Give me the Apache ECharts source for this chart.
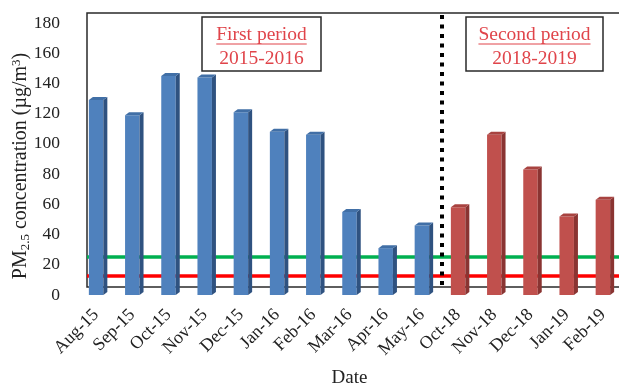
<!DOCTYPE html>
<html>
<head>
<meta charset="utf-8">
<script src="https://cdn.jsdelivr.net/npm/echarts@6/dist/echarts.min.js"></script>
<style>
  html, body { margin: 0; padding: 0; background: #fff; }
  #chart { width: 619px; height: 386px; }
</style>
</head>
<body>
<div id="chart"></div>
<script>
// Monthly mean PM2.5, two sampling campaigns
const months = ['Aug-15', 'Sep-15', 'Oct-15', 'Nov-15', 'Dec-15', 'Jan-16', 'Feb-16',
                'Mar-16', 'Apr-16', 'May-16', 'Oct-18', 'Nov-18', 'Dec-18', 'Jan-19', 'Feb-19'];
const firstPeriod = [129, 119, 145, 144, 121, 108, 106, 55, 31, 46];
const secondPeriod = [58, 106, 83, 52, 63];
const guidelineHigh = 25;  // green reference line
const guidelineLow = 13;   // red reference line
const yTicks = [0, 20, 40, 60, 80, 100, 120, 140, 160, 180];

const FONT = 'Liberation Serif';
const TEXT = '#222';

// [categoryIndex, value] pairs for each campaign
const firstData = firstPeriod.map((v, i) => [i, v]);
const secondData = secondPeriod.map((v, i) => [firstPeriod.length + i, v]);

// Pseudo-3D column: front face, top face, shaded side face
function columnRenderer(front, top, side) {
  return function (params, api) {
    const idx = api.value(0);
    const val = api.value(1);
    const p = api.coord([idx, val]);
    const b = api.coord([idx, 0]);
    const bw = api.size([1, 0])[0] * 0.40;
    const dx = 4, dy = 3;
    const l = p[0] - bw / 2, r = l + bw;
    return {
      type: 'group',
      children: [
        { type: 'rect', shape: { x: l, y: p[1], width: bw, height: b[1] - p[1] },
          style: { fill: front } },
        { type: 'polygon', shape: { points: [[r, p[1]], [r + dx, p[1] - dy], [r + dx, b[1] - dy], [r, b[1]]] },
          style: { fill: side } },
        { type: 'polygon', shape: { points: [[l, p[1]], [l + dx, p[1] - dy], [r + dx, p[1] - dy], [r, p[1]]] },
          style: { fill: top } }
      ]
    };
  };
}

const chart = echarts.init(document.getElementById('chart'), null, { renderer: 'canvas' });

const option = {
  backgroundColor: '#fff',
  animation: false,
  grid: [
    // plotting area for the columns
    { left: 78, width: 543, top: 23, bottom: 91, outerBoundsMode: 'none' },
    // back-wall frame
    { left: 87, right: -10, top: 13, bottom: 99, show: true, borderColor: '#2a2a2a', borderWidth: 1.5,
      backgroundColor: 'transparent', outerBoundsMode: 'none' },
    // reference lines
    { left: 87, right: -2, top: 23, bottom: 91, outerBoundsMode: 'none' }
  ],
  xAxis: [
    {
      gridIndex: 0, type: 'category', data: months,
      axisLine: { show: false }, axisTick: { show: false },
      axisLabel: { rotate: 45, margin: 17, fontFamily: FONT, fontSize: 18, color: TEXT, interval: 0 },
      name: 'Date', nameLocation: 'middle', nameGap: 74, nameMoveOverlap: false,
      nameTextStyle: { fontFamily: FONT, fontSize: 19, color: TEXT }
    },
    { gridIndex: 1, type: 'value', show: false },
    { gridIndex: 2, type: 'value', min: 0, max: 1, show: false }
  ],
  yAxis: [
    {
      gridIndex: 0, type: 'value', min: yTicks[0], max: yTicks[yTicks.length - 1],
      interval: yTicks[1] - yTicks[0],
      splitLine: { show: false }, axisLine: { show: false }, axisTick: { show: false },
      axisLabel: { margin: 18, fontFamily: FONT, fontSize: 17.5, color: TEXT },
      name: 'PM{sub|2.5} concentration (µg/m{sup|3})',
      nameLocation: 'middle', nameGap: 46, nameMoveOverlap: false,
      nameTextStyle: {
        fontFamily: FONT, fontSize: 20, color: TEXT, padding: [0, 14, 0, 0],
        rich: {
          sub: { fontFamily: FONT, fontSize: 13, color: TEXT, padding: [9, 0, 0, 0] },
          sup: { fontFamily: FONT, fontSize: 13, color: TEXT, padding: [0, 0, 9, 0] }
        }
      }
    },
    { gridIndex: 1, type: 'value', show: false },
    { gridIndex: 2, type: 'value', min: yTicks[0], max: yTicks[yTicks.length - 1], show: false }
  ],
  series: [
    {
      name: 'First period', type: 'custom', xAxisIndex: 0, yAxisIndex: 0,
      renderItem: columnRenderer('#4f81bd', '#416fa6', '#2f5280'),
      encode: { x: 0, y: 1 }, data: firstData, z: 5
    },
    {
      name: 'Second period', type: 'custom', xAxisIndex: 0, yAxisIndex: 0,
      renderItem: columnRenderer('#c0504d', '#a84340', '#8a3432'),
      encode: { x: 0, y: 1 }, data: secondData, z: 5
    },
    {
      name: 'Guidelines', type: 'line', xAxisIndex: 2, yAxisIndex: 2, data: [], z: 6,
      markLine: {
        silent: true, symbol: 'none', label: { show: false },
        data: [
          { yAxis: guidelineHigh, lineStyle: { color: '#00b050', width: 3.5, type: 'solid' } },
          { yAxis: guidelineLow, lineStyle: { color: '#ff0000', width: 3.5, type: 'solid' } }
        ]
      }
    }
  ]
};

chart.setOption(option);

// Period annotation boxes and the dotted divider between the two campaigns
const divLeft = chart.convertToPixel({ xAxisIndex: 0 }, firstPeriod.length - 1);
const divRight = chart.convertToPixel({ xAxisIndex: 0 }, firstPeriod.length);
const divX = (divLeft + divRight) / 2 + 2;

const BOX_FONT = '19.5px "' + FONT + '"';
const BOX_RED = '#e0444a';

function periodBox(x, w, title, years) {
  const cx = x + w / 2;
  return {
    type: 'group', z: 20,
    children: [
      { type: 'rect', shape: { x: x, y: 17, width: w, height: 54 },
        style: { fill: '#fff', stroke: '#2a2a2a', lineWidth: 1.5 } },
      { type: 'text', x: cx, y: 35,
        style: { text: title, font: BOX_FONT, fill: BOX_RED, align: 'center', verticalAlign: 'middle' } },
      { type: 'text', x: cx, y: 59,
        style: { text: years, font: BOX_FONT, fill: BOX_RED, align: 'center', verticalAlign: 'middle' } }
    ]
  };
}

function underline(cx, text) {
  const w = echarts.format.getTextRect ? echarts.format.getTextRect(text, BOX_FONT).width : 88;
  return { type: 'line', z: 21, shape: { x1: cx - w / 2, y1: 44, x2: cx + w / 2, y2: 44 },
           style: { stroke: BOX_RED, lineWidth: 1 } };
}

chart.setOption({
  graphic: [
    { type: 'line', z: 10, shape: { x1: divX, y1: 15, x2: divX, y2: 287 },
      style: { stroke: '#000', lineWidth: 4, lineDash: [4, 5.5] } },
    periodBox(202, 119, 'First period', '2015-2016'),
    periodBox(466, 137, 'Second period', '2018-2019'),
    underline(261.5, 'First period'),
    underline(534.5, 'Second period')
  ]
});
</script>
</body>
</html>
